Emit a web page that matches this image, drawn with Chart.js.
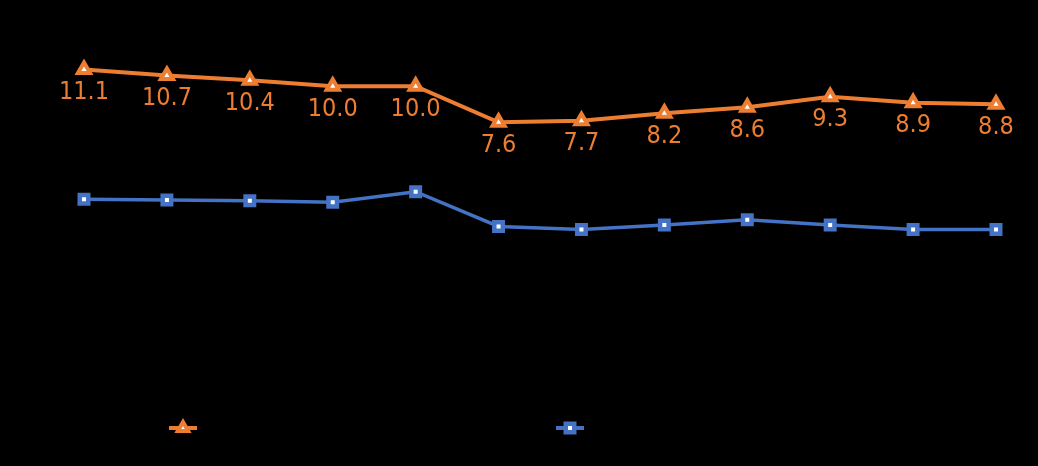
<!DOCTYPE html>
<html>
<head>
<meta charset="utf-8">
<script src="https://cdn.jsdelivr.net/npm/chart.js@4/dist/chart.umd.min.js"></script>
<style>
  html, body { margin: 0; padding: 0; background: #000; }
  #wrap { width: 1038px; height: 466px; }
</style>
</head>
<body>
<div id="wrap"><canvas id="chart" width="1038" height="466"></canvas></div>
<script>
// chart data
const categories = ["1", "2", "3", "4", "5", "6", "7", "8", "9", "10", "11", "12"];
const seriesNames = ["Series 1", "Series 2"];
const orangeValues = [11.1, 10.7, 10.4, 10.0, 10.0, 7.6, 7.7, 8.2, 8.6, 9.3, 8.9, 8.8];
const blueValues = [2.5, 2.45, 2.4, 2.3, 3.0, 0.7, 0.5, 0.8, 1.15, 0.8, 0.5, 0.5];
const yTicks = { min: 0, max: 12 };

const ORANGE = "#ED7D31";
const BLUE = "#4472C4";

//draws value labels under the orange points
const valueLabels = {
  id: "valueLabels",
  afterDatasetsDraw(chart) {
    const ctx = chart.ctx;
    const meta = chart.getDatasetMeta(0);
    ctx.save();
    ctx.font = "25px 'DejaVu Sans Condensed', 'DejaVu Sans'";
    ctx.fillStyle = ORANGE;
    ctx.textAlign = "center";
    ctx.textBaseline = "middle";
    meta.data.forEach((pt, i) => {
      ctx.fillText(orangeValues[i].toFixed(1), pt.x, pt.y + 23);
    });
    ctx.restore();
  },
};

// legend with a short line through the marker, text is black like the reference
const lineLegend = {
  id: "lineLegend",
  afterDraw(chart) {
    const ctx = chart.ctx;
    const items = [
      { x: 183, color: ORANGE, style: "triangle", r: 6, bw: 4, name: seriesNames[0] },
      { x: 570, color: BLUE, style: "rect", r: 6, bw: 4.5, name: seriesNames[1] },
    ];
    const y = 428;
    items.forEach((it) => {
      ctx.save();
      ctx.strokeStyle = it.color;
      ctx.lineWidth = 4;
      ctx.beginPath();
      ctx.moveTo(it.x - 14, y);
      ctx.lineTo(it.x + 14, y);
      ctx.stroke();
      ctx.fillStyle = "#ffffff";
      ctx.lineWidth = it.bw;
      Chart.helpers.drawPoint(ctx, { pointStyle: it.style, radius: it.r, rotation: 0, borderWidth: it.bw }, it.x, y);
      ctx.font = "16px 'DejaVu Sans'";
      ctx.fillStyle = "#000000";
      ctx.textBaseline = "middle";
      ctx.fillText(it.name, it.x + 22, y);
      ctx.restore();
    });
  },
};

new Chart(document.getElementById("chart"), {
  type: "line",
  data: {
    labels: categories,
    datasets: [
      {
        label: seriesNames[0],
        data: orangeValues,
        borderColor: ORANGE,
        borderWidth: 4,
        pointStyle: "triangle",
        pointRadius: 7,
        pointBorderWidth: 4,
        pointBackgroundColor: "#ffffff",
        pointBorderColor: ORANGE,
        tension: 0,
      },
      {
        label: seriesNames[1],
        data: blueValues,
        borderColor: BLUE,
        borderWidth: 3.5,
        pointStyle: "rect",
        pointRadius: 6,
        pointBorderWidth: 4.5,
        pointBackgroundColor: "#ffffff",
        pointBorderColor: BLUE,
        tension: 0,
      },
    ],
  },
  options: {
    responsive: false,
    animation: false,
    layout: { padding: { left: 84, right: 42, top: 56, bottom: 229 } },
    plugins: { legend: { display: false }, tooltip: { enabled: false } },
    scales: {
      x: { display: false, offset: false },
      y: { display: false, min: yTicks.min, max: yTicks.max },
    },
  },
  plugins: [valueLabels, lineLegend],
});
</script>
</body>
</html>
